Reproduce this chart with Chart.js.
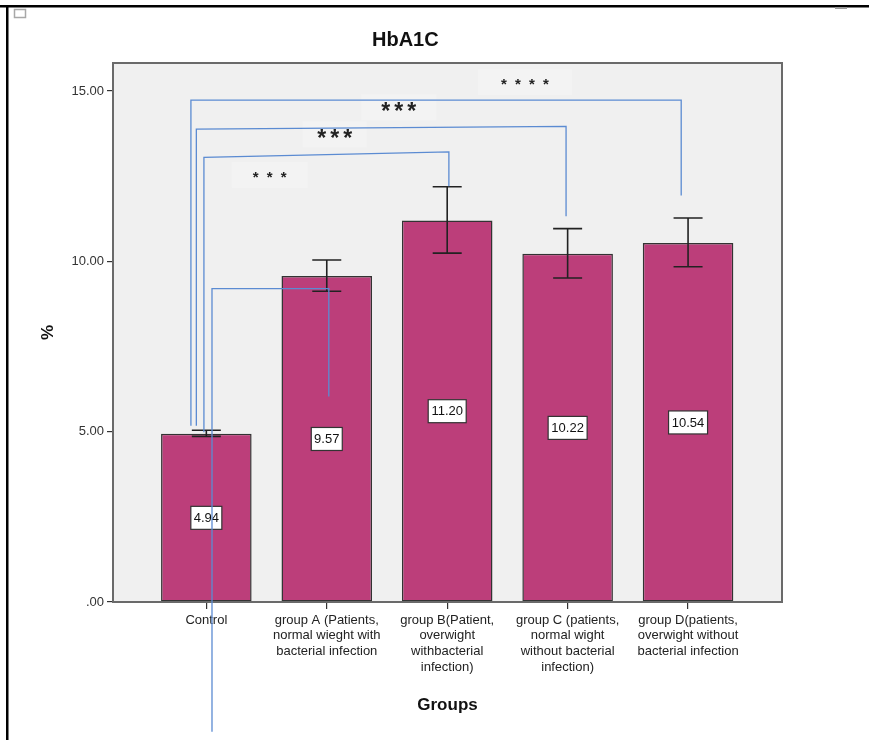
<!DOCTYPE html>
<html>
<head>
<meta charset="utf-8">
<script src="https://cdn.jsdelivr.net/npm/chart.js@4.4.1/dist/chart.umd.min.js"></script>
<style>
  html, body { margin: 0; padding: 0; background: #fff; }
  canvas { display: block; }
</style>
</head>
<body>
<canvas id="chart" width="869" height="740"></canvas>
<script>
// ---- data ----
const chartTitle = 'HbA1C';
const categories = [
  ['Control'],
  ['group A (Patients,', 'normal wieght with', 'bacterial infection'],
  ['group B(Patient,', 'overwight', 'withbacterial', 'infection)'],
  ['group C (patients,', 'normal wight', 'without bacterial', 'infection)'],
  ['group D(patients,', 'overwight without', 'bacterial infection']
];
const means   = [4.94, 9.57, 11.20, 10.22, 10.54];
const errLow  = [4.86, 9.12, 10.24, 9.51, 9.84];
const errHigh = [5.04, 10.04, 12.19, 10.96, 11.27];
const yTicks  = [0, 5, 10, 15];
const yTitle  = '%';
const xTitle  = 'Groups';
const sigLabels = ['****', '***', '***', '***'];

// significance brackets, in axis units (x = group index, y = %)
const brackets = [
  { label: 0, kind: 'small', x1: -0.128, x2: 3.943, yL: 14.73, yR: 14.73, endL: 5.17, endR: 11.93, lx: 2.646, ly: 15.26, bw: 94 },
  { label: 1, kind: 'big',   x1: -0.083, x2: 2.987, yL: 13.88, yR: 13.96, endL: 5.17, endR: 11.32, lx: 1.598, ly: 14.52, bw: 75 },
  { label: 2, kind: 'big',   x1: -0.020, x2: 2.014, yL: 13.05, yR: 13.21, endL: 4.98, endR: 12.20, lx: 1.066, ly: 13.72, bw: 64 },
  { label: 3, kind: 'small', x1: 0.047,  x2: 1.017, yL: 9.195, yR: 9.195, endL: -3.81, endR: 6.03, lx: 0.526, ly: 12.54, bw: 76 }
];

const FONT = '"Liberation Sans", Arial, sans-serif';
const BAR_FILL = '#bc3e7a';
const LINE_BLUE = '#5b8bd2';

const decorations = {
  id: 'decorations',
  beforeDraw(chart) {
    const { ctx, chartArea: a, width, height } = chart;
    ctx.save();
    ctx.fillStyle = '#fff';
    ctx.fillRect(0, 0, width, height);
    // page frame
    ctx.fillStyle = '#000';
    ctx.fillRect(0, 5, width, 2.5);
    ctx.fillRect(6, 5, 2.5, height - 5);
    ctx.strokeStyle = '#a8a8a8';
    ctx.lineWidth = 1.5;
    ctx.strokeRect(14.5, 9.5, 11, 8);
    ctx.fillStyle = '#9a9a9a';
    ctx.fillRect(835, 7, 12, 2);
    // plot background
    ctx.fillStyle = '#f0f0f0';
    ctx.fillRect(a.left, a.top, a.right - a.left, a.bottom - a.top);
    ctx.restore();
  },
  afterDatasetsDraw(chart) {
    const { ctx, chartArea: a, scales: { x, y } } = chart;
    ctx.save();
    // error bars
    ctx.strokeStyle = '#222';
    ctx.lineWidth = 1.6;
    means.forEach((m, i) => {
      const px = x.getPixelForValue(i);
      const lo = y.getPixelForValue(errLow[i]);
      const hi = y.getPixelForValue(errHigh[i]);
      ctx.beginPath();
      ctx.moveTo(px, lo); ctx.lineTo(px, hi);
      ctx.moveTo(px - 14.5, lo); ctx.lineTo(px + 14.5, lo);
      ctx.moveTo(px - 14.5, hi); ctx.lineTo(px + 14.5, hi);
      ctx.stroke();
    });
    // value labels in the middle of each bar
    ctx.font = '13px ' + FONT;
    ctx.textAlign = 'center';
    ctx.textBaseline = 'middle';
    means.forEach((m, i) => {
      const txt = m.toFixed(2);
      const px = x.getPixelForValue(i);
      const py = y.getPixelForValue(m / 2);
      const w = Math.round(ctx.measureText(txt).width + 6);
      const h = 23;
      ctx.fillStyle = '#fff';
      ctx.fillRect(px - w / 2, py - h / 2, w, h);
      ctx.strokeStyle = '#333';
      ctx.lineWidth = 1.2;
      ctx.strokeRect(px - w / 2, py - h / 2, w, h);
      ctx.fillStyle = '#111';
      ctx.fillText(txt, px, py + 0.5);
    });
    // plot frame
    ctx.strokeStyle = '#6a6a6a';
    ctx.lineWidth = 2;
    ctx.strokeRect(a.left, a.top, a.right - a.left, a.bottom - a.top);
    ctx.restore();
  },
  afterDraw(chart) {
    const { ctx, chartArea: a, scales: { x, y } } = chart;
    ctx.save();
    // faint boxes behind the significance labels
    brackets.forEach(b => {
      const lx = x.getPixelForValue(b.lx), ly = y.getPixelForValue(b.ly);
      ctx.fillStyle = '#f3f3f3';
      ctx.fillRect(lx - b.bw / 2, ly - 13, b.bw, 26);
    });
    // significance brackets
    brackets.forEach(b => {
      const x1 = x.getPixelForValue(b.x1), x2 = x.getPixelForValue(b.x2);
      const yl = y.getPixelForValue(b.yL), yr = y.getPixelForValue(b.yR);
      ctx.strokeStyle = LINE_BLUE;
      ctx.lineWidth = 1.3;
      ctx.beginPath();
      ctx.moveTo(x1, y.getPixelForValue(b.endL));
      ctx.lineTo(x1, yl);
      ctx.lineTo(x2, yr);
      ctx.lineTo(x2, y.getPixelForValue(b.endR));
      ctx.stroke();
    });
    // star labels
    brackets.forEach(b => {
      const lx = x.getPixelForValue(b.lx), ly = y.getPixelForValue(b.ly);
      const stars = sigLabels[b.label];
      const n = stars.length;
      const gap = b.kind === 'big' ? 13 : 14;
      ctx.fillStyle = '#222';
      ctx.textAlign = 'center';
      ctx.textBaseline = 'middle';
      ctx.font = b.kind === 'big' ? 'bold 23px ' + FONT : 'bold 15px ' + FONT;
      for (let k = 0; k < n; k++) {
        const cx = lx + (k - (n - 1) / 2) * gap;
        ctx.fillText(stars[k], cx, ly + (b.kind === 'big' ? 5 : 3));
      }
    });
    // titles
    ctx.fillStyle = '#111';
    ctx.textAlign = 'center';
    ctx.textBaseline = 'middle';
    ctx.font = 'bold 20px ' + FONT;
    ctx.fillText(chartTitle, a.left + (a.right - a.left) * 0.437, 40);
    ctx.font = 'bold 17px ' + FONT;
    ctx.fillText(xTitle, (a.left + a.right) / 2, 705);
    ctx.save();
    ctx.translate(48, (a.top + a.bottom) / 2);
    ctx.rotate(-Math.PI / 2);
    ctx.font = 'bold 17px ' + FONT;
    ctx.fillText(yTitle, 0, 0);
    ctx.restore();
    ctx.restore();
  }
};

new Chart(document.getElementById('chart'), {
  type: 'bar',
  data: {
    datasets: [{
      data: means.map((v, i) => ({ x: i, y: v })),
      backgroundColor: BAR_FILL,
      borderColor: '#333',
      borderWidth: 1.5,
      borderSkipped: false,
      categoryPercentage: 1,
      barPercentage: 0.752
    }]
  },
  options: {
    responsive: false,
    animation: false,
    layout: { padding: { top: 63, right: 87, left: 0, bottom: 0 } },
    plugins: { legend: { display: false }, tooltip: { enabled: false }, title: { display: false } },
    scales: {
      x: {
        type: 'linear',
        offset: false,
        min: -0.775,
        max: 4.78,
        afterBuildTicks: s => { s.ticks = categories.map((c, i) => ({ value: i })); },
        afterFit: s => { s.height = 138; },
        grid: { display: true, drawOnChartArea: false, offset: false, color: '#333', tickLength: 7, lineWidth: 1.2 },
        border: { display: false },
        ticks: {
          autoSkip: false,
          maxRotation: 0,
          minRotation: 0,
          padding: 3,
          color: '#222',
          font: { family: FONT, size: 13, lineHeight: 1.22 },
          callback: v => categories[v]
        }
      },
      y: {
        type: 'linear',
        min: 0,
        max: 15.82,
        afterBuildTicks: s => { s.ticks = yTicks.map(v => ({ value: v })); },
        afterFit: s => { s.width = 113; },
        grid: { display: true, drawOnChartArea: false, color: '#333', tickLength: 6, lineWidth: 1.2 },
        border: { display: false },
        ticks: {
          padding: 3,
          color: '#333',
          font: { family: FONT, size: 13 },
          callback: v => (v === 0 ? '.00' : v.toFixed(2))
        }
      }
    }
  },
  plugins: [decorations]
});
</script>
</body>
</html>
